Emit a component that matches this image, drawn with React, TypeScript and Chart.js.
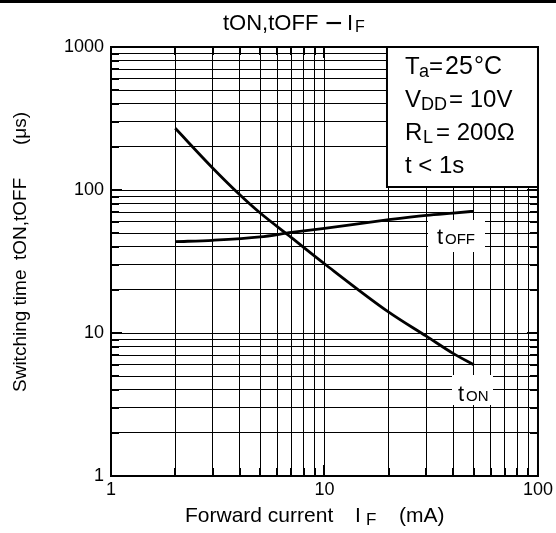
import React, { useEffect, useRef } from "react";
import { Chart, registerables } from "chart.js";

Chart.register(...registerables);

// ---- data ----
const IF_ON = [2, 3, 4, 5, 7, 10, 20, 30, 40, 50];
const T_ON = [270, 142, 93, 69, 46.5, 30.5, 14.0, 9.5, 7.2, 6.0];
const IF_OFF = [2, 3, 5, 7, 10, 20, 30, 40, 50];
const T_OFF = [43.5, 44.5, 47, 50.5, 54, 62, 66.5, 69, 71];

const X_TICKS = [1, 2, 3, 4, 5, 6, 7, 8, 9, 10, 20, 30, 40, 50, 60, 70, 80, 90, 100];
const Y_TICKS = [
  1, 2, 3, 4, 5, 6, 7, 8, 9, 10, 20, 30, 40, 50, 60, 70, 80, 90, 100,
  200, 300, 400, 500, 600, 700, 800, 900, 1000,
];
const X_LABELS = [1, 10, 100];
const Y_LABELS = [1, 10, 100, 1000];

const FONT = "'Liberation Sans', Arial, Helvetica, sans-serif";

function txt(ctx: CanvasRenderingContext2D, s: string, x: number, y: number, size: number) {
  ctx.font = `${size}px ${FONT}`;
  ctx.fillText(s, x, y);
}

const decorPlugin = {
  id: "decor",
  afterDatasetsDraw(chart: any) {
    const ctx: CanvasRenderingContext2D = chart.ctx;
    const a = chart.chartArea;
    const xs = chart.scales.x;
    const ys = chart.scales.y;
    ctx.save();
    ctx.fillStyle = "#000";
    ctx.strokeStyle = "#000";

    // inward tick marks on all four sides
    ctx.lineWidth = 2;
    ctx.beginPath();
    X_TICKS.forEach((v) => {
      const px = Math.round(xs.getPixelForValue(v));
      const len = X_LABELS.includes(v) ? 11 : 8;
      ctx.moveTo(px, a.bottom);
      ctx.lineTo(px, a.bottom - len);
      ctx.moveTo(px, a.top);
      ctx.lineTo(px, a.top + len);
    });
    Y_TICKS.forEach((v) => {
      const py = Math.round(ys.getPixelForValue(v));
      const len = Y_LABELS.includes(v) ? 11 : 8;
      ctx.moveTo(a.left, py);
      ctx.lineTo(a.left + len, py);
      ctx.moveTo(a.right, py);
      ctx.lineTo(a.right - len, py);
    });
    ctx.stroke();

    // frame
    ctx.lineWidth = 2;
    ctx.strokeRect(a.left, a.top, a.right - a.left, a.bottom - a.top);

    // condition box
    const bx = a.right - 151;
    const by = a.top;
    ctx.fillStyle = "#fff";
    ctx.fillRect(bx, by, 151, 140);
    ctx.strokeRect(bx, by, 151, 140);
    ctx.fillStyle = "#000";
    ctx.textBaseline = "alphabetic";
    ctx.textAlign = "left";
    // Ta=25°C
    txt(ctx, "T", 405, 74, 24);
    txt(ctx, "a", 419, 77, 18);
    txt(ctx, "=", 429, 74, 24);
    txt(ctx, "25", 445, 74, 25);
    txt(ctx, "°C", 474, 74, 25);
    // VDD = 10V
    txt(ctx, "V", 405, 107, 24);
    txt(ctx, "DD", 421, 110, 18);
    txt(ctx, "= 10V", 449, 107, 24);
    // RL = 200Ω
    txt(ctx, "R", 405, 140, 24);
    txt(ctx, "L", 423, 143, 18);
    txt(ctx, "= 200Ω", 436, 140, 24);
    // t < 1s
    txt(ctx, "t < 1s", 405, 173, 24);

    // series labels
    ctx.fillStyle = "#fff";
    ctx.fillRect(428, 220, 57, 32);
    ctx.fillRect(452, 375, 41, 30);
    ctx.fillStyle = "#000";
    txt(ctx, "t", 437, 244, 22);
    txt(ctx, "OFF", 445, 244, 15);
    txt(ctx, "t", 458, 401, 22);
    txt(ctx, "ON", 466, 401, 15);

    // top rule
    ctx.fillRect(0, 0, chart.width, 3);

    // chart title
    txt(ctx, "tON,tOFF", 223, 30, 22);
    txt(ctx, "−", 325, 33, 30);
    txt(ctx, "I", 347, 30, 22);
    txt(ctx, "F", 355, 32, 16);

    // x-axis title
    txt(ctx, "Forward current", 185, 522, 21);
    txt(ctx, "I", 355, 522, 21);
    txt(ctx, "F", 366, 525, 17);
    txt(ctx, "(mA)", 399, 522, 21);

    // y-axis title (rotated)
    const rot = (s: string, y: number) => {
      ctx.save();
      ctx.translate(26, y);
      ctx.rotate(-Math.PI / 2);
      txt(ctx, s, 0, 0, 19);
      ctx.restore();
    };
    rot("Switching time", 392);
    rot("tON,tOFF", 260);
    rot("(μs)", 145);

    ctx.restore();
  },
};

export default function App() {
  const ref = useRef<HTMLCanvasElement | null>(null);

  useEffect(() => {
    document.body.style.margin = "0";
    const canvas = ref.current;
    if (!canvas) return;

    const tickFont = { family: FONT, size: 18 };
    const chart = new Chart(canvas, {
      type: "line",
      data: {
        datasets: [
          {
            label: "tON",
            data: IF_ON.map((x, i) => ({ x, y: T_ON[i] })),
            borderColor: "#000",
            borderWidth: 2.8,
            pointRadius: 0,
            fill: false,
            cubicInterpolationMode: "monotone",
          },
          {
            label: "tOFF",
            data: IF_OFF.map((x, i) => ({ x, y: T_OFF[i] })),
            borderColor: "#000",
            borderWidth: 2.8,
            pointRadius: 0,
            fill: false,
            cubicInterpolationMode: "monotone",
          },
        ],
      },
      options: {
        responsive: false,
        animation: false,
        devicePixelRatio: 1,
        layout: { padding: { top: 47, right: 18, left: 0, bottom: 0 } },
        plugins: {
          legend: { display: false },
          tooltip: { enabled: false },
          title: { display: false },
        },
        scales: {
          x: {
            type: "logarithmic",
            min: 1,
            max: 100,
            afterBuildTicks: (s: any) => {
              s.ticks = X_TICKS.map((v) => ({ value: v }));
            },
            afterFit: (s: any) => {
              s.height = 57;
            },
            grid: { color: "#000", lineWidth: 1, drawTicks: false },
            border: { display: true, color: "#000", width: 2 },
            ticks: {
              autoSkip: false,
              maxRotation: 0,
              padding: 3,
              color: "#000",
              font: tickFont,
              callback: (v: any) => (X_LABELS.includes(Number(v)) ? String(v) : ""),
            },
          },
          y: {
            type: "logarithmic",
            min: 1,
            max: 1000,
            afterBuildTicks: (s: any) => {
              s.ticks = Y_TICKS.map((v) => ({ value: v }));
            },
            afterFit: (s: any) => {
              s.width = 111;
            },
            grid: { color: "#000", lineWidth: 1, drawTicks: false },
            border: { display: true, color: "#000", width: 2 },
            ticks: {
              autoSkip: false,
              padding: 7,
              color: "#000",
              font: tickFont,
              callback: (v: any) => (Y_LABELS.includes(Number(v)) ? String(v) : ""),
            },
          },
        },
      },
      plugins: [decorPlugin],
    } as any);

    return () => chart.destroy();
  }, []);

  return (
    <div style={{ width: 556, height: 533, background: "#fff" }}>
      <canvas ref={ref} width={556} height={533} style={{ width: 556, height: 533, display: "block" }} />
    </div>
  );
}
